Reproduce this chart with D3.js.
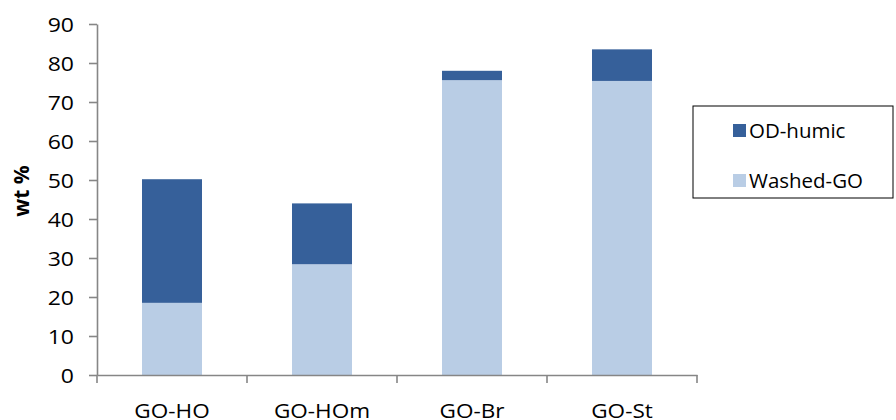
<!DOCTYPE html>
<html>
<head>
<meta charset="utf-8">
<script src="https://cdn.jsdelivr.net/npm/d3@7"></script>
<style>
  html, body { margin: 0; padding: 0; background: #fff; }
  svg { display: block; }
  text { font-family: "Open Sans", "Noto Sans", sans-serif; fill: #000; }
</style>
</head>
<body>
<svg id="chart" width="896" height="420"></svg>
<script>
// ---- data ----
const categories = ["GO-HO", "GO-HOm", "GO-Br", "GO-St"];
const washedGO = [18.5, 28.4, 75.6, 75.4];
const odHumic = [31.7, 15.6, 2.4, 8.1];
const yTicks = [0, 10, 20, 30, 40, 50, 60, 70, 80, 90];
const seriesNames = ["Washed-GO", "OD-humic"];
const legendOrder = ["OD-humic", "Washed-GO"];
const yTitle = "wt %";

// ---- styling ----
const colors = { "OD-humic": "#36609A", "Washed-GO": "#B9CDE5" };
const axisColor = "#868686";
const mLeft = 97, mRight = 697, mTop = 24, mBottom = 375;

const svg = d3.select("#chart");

const rows = categories.map((c, i) => ({ cat: c, "Washed-GO": washedGO[i], "OD-humic": odHumic[i] }));
const stacked = d3.stack().keys(seriesNames)(rows);

const x = d3.scaleBand().domain(categories).range([mLeft, mRight]).paddingInner(0.6).paddingOuter(0.3);
const y = d3.scaleLinear().domain([0, 90]).range([mBottom, mTop]);

// bars
svg.append("g").selectAll("g").data(stacked).join("g")
  .attr("fill", d => colors[d.key])
  .selectAll("rect").data(d => d).join("rect")
  .attr("x", d => x(d.data.cat))
  .attr("width", x.bandwidth())
  .attr("y", d => y(d[1]))
  .attr("height", d => y(d[0]) - y(d[1]));

// y axis
const ySx = 1.15;
const yAxis = svg.append("g").attr("transform", `translate(${mLeft},0)`)
  .call(d3.axisLeft(y).tickValues(yTicks).tickSize(8).tickSizeOuter(0));
yAxis.select(".domain").attr("stroke", axisColor).attr("stroke-width", 1.6);
yAxis.selectAll(".tick line").attr("stroke", axisColor).attr("stroke-width", 1.6);
yAxis.selectAll(".tick text")
  .attr("x", -23 / ySx)
  .attr("dy", "0.36em")
  .attr("transform", `scale(${ySx},1)`)
  .attr("fill", "#000")
  .style("font-size", "20px");

// x axis
const xAxis = svg.append("g").attr("transform", `translate(0,${mBottom})`)
  .call(d3.axisBottom(x).tickSize(0).tickSizeOuter(0));
xAxis.select(".domain").attr("stroke", axisColor).attr("stroke-width", 1.6);
xAxis.selectAll(".tick text").remove();
// boundary ticks between categories
const bounds = categories.map((c, i) => mLeft + i * x.step());
bounds.push(mRight);
xAxis.selectAll("line.bt").data(bounds).join("line").attr("class", "bt")
  .attr("x1", d => d).attr("x2", d => d).attr("y1", 0).attr("y2", 8)
  .attr("stroke", axisColor).attr("stroke-width", 1.6);
// category labels
const xSx = 1.1;
xAxis.selectAll("text.cl").data(categories).join("text").attr("class", "cl")
  .attr("text-anchor", "middle")
  .attr("transform", d => `translate(${x(d) + x.bandwidth() / 2},43) scale(${xSx},1)`)
  .style("font-size", "20.5px")
  .text(d => d);

// y title
svg.append("text")
  .attr("transform", "translate(29,191) rotate(-90)")
  .attr("text-anchor", "middle")
  .style("font-size", "21px")
  .style("font-weight", "bold")
  .text(yTitle);

// legend
const lg = svg.append("g");
lg.append("rect").attr("x", 693).attr("y", 106).attr("width", 200).attr("height", 92)
  .attr("fill", "#fff").attr("stroke", "#000").attr("stroke-width", 1);
const items = lg.selectAll("g.item").data(legendOrder).join("g").attr("class", "item")
  .attr("transform", (d, i) => `translate(733,${124 + i * 50})`);
items.append("rect").attr("width", 13).attr("height", 13).attr("fill", d => colors[d]);
items.append("text").attr("transform", "translate(16,14) scale(1.05,1)")
  .style("font-size", "19.5px").text(d => d);
</script>
</body>
</html>
